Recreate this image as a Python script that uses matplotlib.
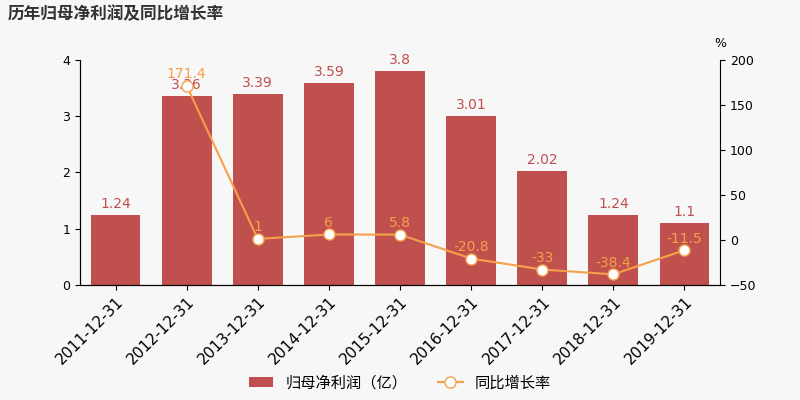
import matplotlib.pyplot as plt
import numpy as np

plt.rcParams['font.family'] = ['DejaVu Sans', 'Noto Sans CJK SC']

years = ['2011-12-31', '2012-12-31', '2013-12-31', '2014-12-31', '2015-12-31',
         '2016-12-31', '2017-12-31', '2018-12-31', '2019-12-31']
profit = [1.24, 3.36, 3.39, 3.59, 3.8, 3.01, 2.02, 1.24, 1.1]
growth = [None, 171.4, 1, 6, 5.8, -20.8, -33, -38.4, -11.5]

bar_c = '#c0504d'
line_c = '#f5a04a'
bg = '#f7f7f7'

fig = plt.figure(figsize=(8, 4), dpi=100, facecolor=bg)
ax = fig.add_axes([0.1, 0.288, 0.8, 0.562])
ax.set_facecolor(bg)
x = np.arange(len(years))
ax.bar(x, profit, width=0.7, color=bar_c, label='归母净利润（亿）', zorder=2)
for xi, v in zip(x, profit):
    ax.text(xi, v + 0.07, f'{v:g}', ha='center', va='bottom', color=bar_c, fontsize=10)
ax.set_ylim(0, 4)
ax.set_yticks([0, 1, 2, 3, 4])
ax.tick_params(labelsize=9)
ax.set_xlim(-0.5, len(years) - 0.5)
ax.set_xticks(x)
ax.set_xticklabels(years, rotation=45, ha='right', rotation_mode='anchor', fontsize=11)
for s in ['top', 'right']:
    ax.spines[s].set_visible(False)

ax2 = ax.twinx()
gx = [xi for xi, g in zip(x, growth) if g is not None]
gy = [g for g in growth if g is not None]
ax2.plot(gx, gy, color=line_c, marker='o', markersize=3, markerfacecolor='white',
         linewidth=1.5, label='同比增长率', zorder=3)
for xi, g in zip(gx, gy):
    ax2.text(xi, g + 5, f'{g:g}', ha='center', va='bottom', color=line_c, fontsize=10)
ax2.set_ylim(-50, 200)
ax2.set_yticks([-50, 0, 50, 100, 150, 200])
ax2.tick_params(labelsize=9)
ax2.spines['top'].set_visible(False)
ax2.text(1.0, 1.06, '%', transform=ax2.transAxes, ha='center', fontsize=9)

fig.text(0.01, 0.965, '历年归母净利润及同比增长率', fontsize=12, fontweight='bold',
         color='#333333', va='center')

h1, l1 = ax.get_legend_handles_labels()
h2, l2 = ax2.get_legend_handles_labels()
h2[0].set_markersize(8)
fig.legend(h1 + h2, l1 + l2, loc='lower center', bbox_to_anchor=(0.5, -0.01), ncol=2,
           frameon=False, fontsize=11, handlelength=1.6)

fig.savefig('out.png', facecolor=bg)
